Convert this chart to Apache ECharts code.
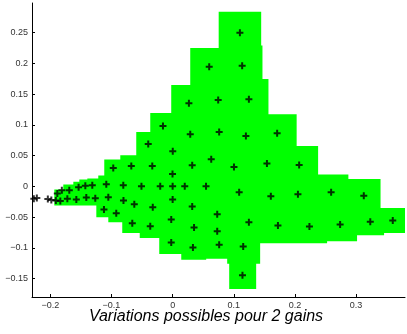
<!DOCTYPE html>
<html>
<head>
<meta charset="utf-8">
<script src="https://cdn.jsdelivr.net/npm/echarts@6/dist/echarts.min.js"></script>
<style>
  html, body { margin: 0; padding: 0; background: #fff; }
  #chart { width: 407px; height: 334px; }
</style>
</head>
<body>
<div id="chart"></div>
<script>
// measured points (+ markers)
const pointX = [
  -0.2270, -0.2221, -0.2041, -0.1984, -0.1910, -0.1837, -0.1886, -0.1812, -0.1690, -0.1722,
  -0.1575, -0.1538, -0.1428, -0.1314, -0.1412, -0.1265, -0.1085, -0.1052, -0.0971, -0.0807,
  -0.0804, -0.0676, -0.0627, -0.1123, -0.0922, -0.0660, -0.0510, -0.0333, -0.0325, -0.0366,
  -0.0399, -0.0158, -0.0203, 0.0002, -0.0002, 0.0000, 0.0000, -0.0023, -0.0023, 0.0198,
  0.0266, 0.0288, 0.0320, 0.0320, 0.0350, 0.0332, 0.0546, 0.0598, 0.0631, 0.0729,
  0.0729, 0.0745, 0.0761, 0.0761, 0.1003, 0.1088, 0.1100, 0.1137, 0.1142, 0.1154,
  0.1198, 0.1247, 0.1247, 0.1542, 0.1606, 0.1709, 0.1722, 0.2069, 0.2049, 0.2237,
  0.2592, 0.2739, 0.3126, 0.3232, 0.3600
];
const pointY = [
  -0.0204, -0.0191, -0.0207, -0.0224, -0.0232, -0.0240, -0.0118, -0.0064, -0.0064, -0.0204,
  -0.0216, -0.0015, 0.0010, 0.0016, -0.0183, -0.0194, 0.0034, -0.0178, 0.0296, 0.0018,
  -0.0232, 0.0328, -0.0292, -0.0379, -0.0439, -0.0602, 0.0002, 0.0328, -0.0341, -0.0651,
  0.0687, 0.0981, 0.0002, 0.0571, 0.0201, 0.0000, -0.0216, -0.0539, -0.0913, 0.0000,
  0.1352, 0.0846, 0.0344, -0.0327, -0.0669, -0.0994, 0.0000, 0.1944, 0.0438, -0.0456,
  -0.0733, 0.1401, 0.0883, -0.0950, 0.0312, -0.0096, 0.2495, 0.1961, -0.1445, -0.0978,
  0.0818, 0.1417, -0.0586, 0.0372, -0.0162, 0.0862, -0.0637, 0.0348, -0.0131, -0.0653,
  -0.0096, -0.0620, -0.0153, -0.0575, -0.0558
];

// green envelope: upper and lower step profiles
const upperX = [-0.1935, -0.1788, -0.1624, -0.1526, -0.1395, -0.1216, -0.1118, -0.0856, -0.0595, -0.0366,
  -0.0023, 0.0288, 0.0753, 0.1448, 0.1469, 0.1567, 0.2028, 0.2379, 0.2874, 0.3400, 0.38];
const upperY = [-0.0052, 0.0029, 0.0073, 0.0111, 0.0127, 0.0176, 0.0437, 0.0503, 0.0883, 0.1193,
  0.1646, 0.2250, 0.2838, 0.2291, 0.1744, 0.1173, 0.0655, 0.0193, 0.0119, -0.0354];
const lowerX = [-0.1935, -0.1248, -0.1052, -0.0824, -0.0538, -0.0219, 0.0141, 0.0549, 0.0892, 0.0925,
  0.1366, 0.1431, 0.2526, 0.3016, 0.3458, 0.38];
const lowerY = [-0.0313, -0.0504, -0.0586, -0.0759, -0.0841, -0.1102, -0.1195, -0.1179, -0.1260, -0.1669,
  -0.1260, -0.0926, -0.0893, -0.0798, -0.0759];

const titleText = "Variations possibles pour 2 gains";

function envelope() {
  const pts = [];
  for (let i = 0; i < upperY.length; i++) {
    pts.push([upperX[i], upperY[i]], [upperX[i + 1], upperY[i]]);
  }
  for (let i = lowerY.length - 1; i >= 0; i--) {
    pts.push([lowerX[i + 1], lowerY[i]], [lowerX[i], lowerY[i]]);
  }
  return pts;
}

const fmt = v => String(+v.toFixed(2)).replace("-", "\u2212");

const chart = echarts.init(document.getElementById("chart"), null, { renderer: "canvas" });
const axisCommon = {
  type: "value",
  axisLine: { show: true, onZero: false, lineStyle: { color: "#000", width: 1 } },
  axisTick: { show: true, inside: true, length: 3, lineStyle: { color: "#000" } },
  splitLine: { show: false },
  axisLabel: {
    color: "#333", fontSize: 9, fontFamily: "Liberation Sans, Arial, sans-serif",
    formatter: fmt, showMinLabel: false, showMaxLabel: false, margin: 4
  }
};

chart.setOption({
  animation: false,
  backgroundColor: "#fff",
  title: {
    text: titleText,
    left: 201,
    textAlign: "center",
    top: 304,
    textStyle: {
      fontStyle: "italic", fontWeight: "normal", fontSize: 16, color: "#000",
      fontFamily: "Liberation Sans, Arial, sans-serif"
    }
  },
  grid: { left: 32, right: 2, top: 3, bottom: 37 },
  xAxis: Object.assign({}, axisCommon, { min: -0.23, max: 0.38, splitNumber: 6 }),
  yAxis: Object.assign({}, axisCommon, { min: -0.18, max: 0.298, splitNumber: 10 }),
  series: [
    {
      type: "custom",
      clip: true,
      silent: true,
      data: [0],
      renderItem: (params, api) => ({
        type: "polygon",
        shape: { points: envelope().map(p => api.coord(p)) },
        style: { fill: "#00ff00", stroke: null }
      }),
      z: 1
    },
    {
      type: "scatter",
      silent: true,
      data: pointX.map((x, i) => [x, pointY[i]]),
      symbol: "path://M2.5,0H4.5V2.5H7V4.5H4.5V7H2.5V4.5H0V2.5H2.5Z",
      symbolSize: 7,
      itemStyle: { color: "#000" },
      z: 2
    }
  ]
});
</script>
</body>
</html>
